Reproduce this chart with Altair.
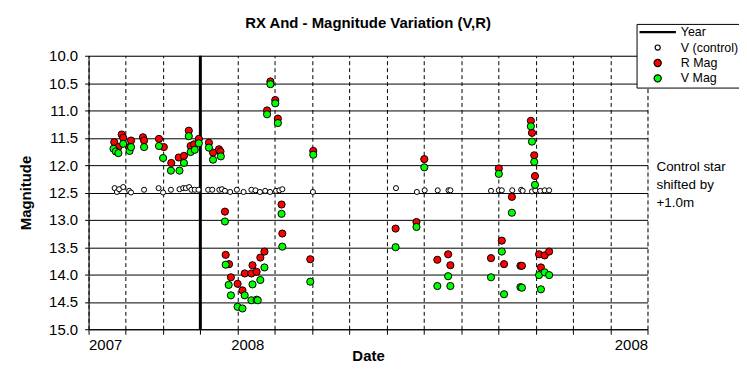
import altair as alt
import pandas as pd

# ---------------- data ----------------
# x = position in major-tick units of the date axis (0 = first tick "2007", 15 = last tick)
r_x = [0.69, 0.89, 0.93, 0.80, 1.14, 1.09, 1.46, 1.49, 1.89, 2.02, 2.22, 2.42, 2.56, 2.69,
       2.74, 2.83, 2.96, 3.23, 3.34, 3.50, 3.54, 3.66, 3.68, 3.77, 3.82, 4.00, 4.13, 4.19,
       4.37, 4.40, 4.51, 4.61, 4.72, 4.79, 4.88, 5.01, 5.08, 5.18, 5.20, 5.95, 6.03, 8.24,
       8.80, 9.01, 9.36, 9.65, 9.71, 10.80, 11.01, 11.09, 11.15, 11.36, 11.59, 11.63, 11.87,
       11.90, 11.96, 11.98, 12.09, 12.14, 12.24, 12.36]
r_mag = [11.58, 11.44, 11.50, 11.67, 11.55, 11.67, 11.49, 11.55, 11.52, 11.67, 11.96, 11.86,
         11.83, 11.37, 11.65, 11.62, 11.52, 11.59, 11.77, 11.71, 11.75, 12.85, 13.64, 13.81,
         14.05, 14.17, 14.29, 13.98, 13.98, 13.83, 13.95, 13.69, 13.58, 11.00, 10.47, 10.81,
         11.15, 12.72, 13.25, 13.72, 11.74, 13.16, 13.04, 11.89, 13.73, 13.63, 13.83, 13.70,
         12.06, 13.38, 13.81, 12.58, 13.84, 13.84, 11.19, 11.41, 11.82, 12.20, 13.63, 13.87,
         13.65, 13.58]

v_x = [0.67, 0.73, 0.80, 0.93, 1.10, 1.14, 1.49, 1.89, 2.00, 2.21, 2.44, 2.56, 2.69, 2.74,
       2.85, 2.96, 3.23, 3.34, 3.55, 3.66, 3.68, 3.76, 3.82, 4.00, 4.13, 4.19, 4.37, 4.40,
       4.51, 4.54, 4.61, 4.72, 4.79, 4.88, 5.01, 5.08, 5.18, 5.20, 5.95, 6.03, 8.24, 8.80,
       9.01, 9.36, 9.65, 9.71, 10.80, 11.01, 11.09, 11.15, 11.36, 11.59, 11.63, 11.87, 11.90,
       11.96, 11.98, 12.09, 12.14, 12.24, 12.36]
v_mag = [11.70, 11.75, 11.78, 11.61, 11.74, 11.67, 11.67, 11.65, 11.87, 12.10, 12.10, 11.96,
         11.47, 11.76, 11.72, 11.60, 11.68, 11.90, 11.84, 13.03, 13.82, 14.19, 14.38, 14.59,
         14.62, 14.38, 14.47, 14.18, 14.46, 14.47, 14.10, 13.87, 11.07, 10.52, 10.87, 11.23,
         12.89, 13.49, 14.13, 11.81, 13.50, 13.13, 12.04, 14.21, 14.03, 14.21, 14.05, 12.16,
         13.58, 14.36, 12.87, 14.23, 14.24, 11.29, 11.57, 11.94, 12.36, 14.01, 14.27, 13.96,
         14.01]

c_x = [0.70, 0.76, 0.82, 0.93, 1.09, 1.14, 1.49, 1.88, 2.00, 2.21, 2.44, 2.54, 2.61, 2.70,
       2.76, 2.85, 2.95, 3.21, 3.32, 3.51, 3.58, 3.66, 3.80, 3.98, 4.16, 4.37, 4.48, 4.60,
       4.74, 4.87, 5.03, 5.12, 5.20, 6.02, 8.25, 8.81, 9.02, 9.37, 9.66, 9.71, 10.80, 11.01,
       11.09, 11.37, 11.61, 11.65, 11.90, 11.99, 12.12, 12.24, 12.36]
c_mag = [12.42, 12.49, 12.44, 12.40, 12.47, 12.50, 12.45, 12.42, 12.50, 12.45, 12.44, 12.42,
         12.42, 12.40, 12.45, 12.45, 12.45, 12.45, 12.45, 12.45, 12.44, 12.47, 12.49, 12.45,
         12.49, 12.45, 12.46, 12.49, 12.47, 12.49, 12.47, 12.46, 12.44, 12.49, 12.42, 12.49,
         12.46, 12.46, 12.46, 12.46, 12.47, 12.46, 12.46, 12.46, 12.45, 12.47, 12.48, 12.46,
         12.47, 12.46, 12.46]

year_x = [3.0]

x_ticks = list(range(16))
x_label_2007 = 0
x_label_2008a = 4
x_label_2008b = 15
y_ticks = [10.0, 10.5, 11.0, 11.5, 12.0, 12.5, 13.0, 13.5, 14.0, 14.5, 15.0]

series_names = ["Year", "V (control)", "R Mag", "V Mag"]
series_colors = ["#000000", "#ffffff", "#ff0000", "#00ff00"]
series_shapes = ["M-5,-0.12L5,-0.12L5,0.12L-5,0.12Z", "circle", "circle", "circle"]
series_sizes = [50, 26, 52, 52]

title_text = "RX And - Magnitude Variation (V,R)"
note_lines = ["Control star", "shifted by", "+1.0m"]

# ---------------- tables ----------------
pts = pd.concat([
    pd.DataFrame({"x": c_x, "mag": c_mag, "series": "V (control)", "o": 0}),
    pd.DataFrame({"x": r_x, "mag": r_mag, "series": "R Mag", "o": 1}),
    pd.DataFrame({"x": v_x, "mag": v_mag, "series": "V Mag", "o": 2}),
], ignore_index=True)
year_df = pd.DataFrame({"x": year_x, "series": "Year"})

FONT = "Liberation Sans"

label_expr = (f"datum.value == {x_label_2007} ? '2007' : "
              f"(datum.value == {x_label_2008a} || datum.value == {x_label_2008b}) ? '2008' : ''")

x_axis = alt.Axis(
    values=x_ticks, labelExpr=label_expr, title="Date",
    grid=True, gridColor="black", gridDash=[4, 3], gridWidth=1,
    domainColor="black", tickColor="black", tickSize=5,
    labelFont=FONT, labelFontSize=15, labelColor="black", labelPadding=3,
    labelAlign={"condition": {"test": f"datum.value == {x_label_2008b}", "value": "right"},
                "value": "left"},
    labelOffset={"condition": {"test": f"datum.value == {x_label_2008a}", "value": -7},
                 "value": 0},
    labelOverlap=False, labelFlush=False,
    titleFont=FONT, titleFontSize=15, titleFontWeight="bold", titleColor="black",
    titlePadding=-4,
)
x_scale = alt.Scale(domain=[0, 15], nice=False, zero=False)

y_axis = alt.Axis(
    values=y_ticks, format=".1f", title="Magnitude",
    grid=True, gridColor="black", gridWidth=1,
    domainColor="black", tickColor="black", tickSize=4,
    labelFont=FONT, labelFontSize=15, labelColor="black", labelPadding=7,
    titleFont=FONT, titleFontSize=15, titleFontWeight="bold", titleColor="black",
    titlePadding=15,
)
y_scale = alt.Scale(domain=[10, 15], reverse=True, nice=False, zero=False)

legend_def = alt.Legend(
    title=None, orient="none", legendX=551, legendY=-32,
    fillColor="white", strokeColor="black", padding=2, cornerRadius=0,
    labelFont=FONT, labelFontSize=12.5, labelColor="black", labelLimit=200,
    rowPadding=2.5, labelOffset=17, symbolOffset=13,
    symbolStrokeColor="black", symbolStrokeWidth=1.2,
)

color_enc = alt.Color("series:N", scale=alt.Scale(domain=series_names, range=series_colors),
                      legend=legend_def)
shape_enc = alt.Shape("series:N", scale=alt.Scale(domain=series_names, range=series_shapes),
                      legend=legend_def)
size_enc = alt.Size("series:N",
                    scale=alt.Scale(type="ordinal", domain=series_names, range=series_sizes),
                    legend=legend_def)

year_rule = alt.Chart(year_df).mark_rule(strokeWidth=3, color="black").encode(
    x=alt.X("x:Q", scale=x_scale, axis=x_axis),
)

points = alt.Chart(pts).mark_point(filled=True, stroke="black", strokeWidth=1, opacity=1).encode(
    x=alt.X("x:Q", scale=x_scale, axis=x_axis),
    y=alt.Y("mag:Q", scale=y_scale, axis=y_axis),
    color=color_enc,
    shape=shape_enc,
    size=size_enc,
    order=alt.Order("o:Q"),
)

note = alt.Chart(pd.DataFrame({"a": [0]})).mark_text(
    text=note_lines, align="left", baseline="middle", font=FONT, fontSize=13.5,
    lineHeight=18, color="black",
).encode(x=alt.value(571), y=alt.value(112))

chart = alt.layer(year_rule, points, note).properties(
    width=562, height=275,
    title=alt.TitleParams(title_text, font=FONT, fontSize=15, fontWeight="bold",
                          color="black", anchor="middle", offset=0, dy=8, frame="group"),
    autosize=alt.AutoSizeParams(type="none"),
    padding={"left": 81, "top": 47, "right": 92, "bottom": 47},
).configure_view(
    fill="#c0c3c0", stroke="#7f7f7f", strokeWidth=1.5,
).configure(background="white")

chart.save("out.html", embed_options={"renderer": "svg", "actions": False})
